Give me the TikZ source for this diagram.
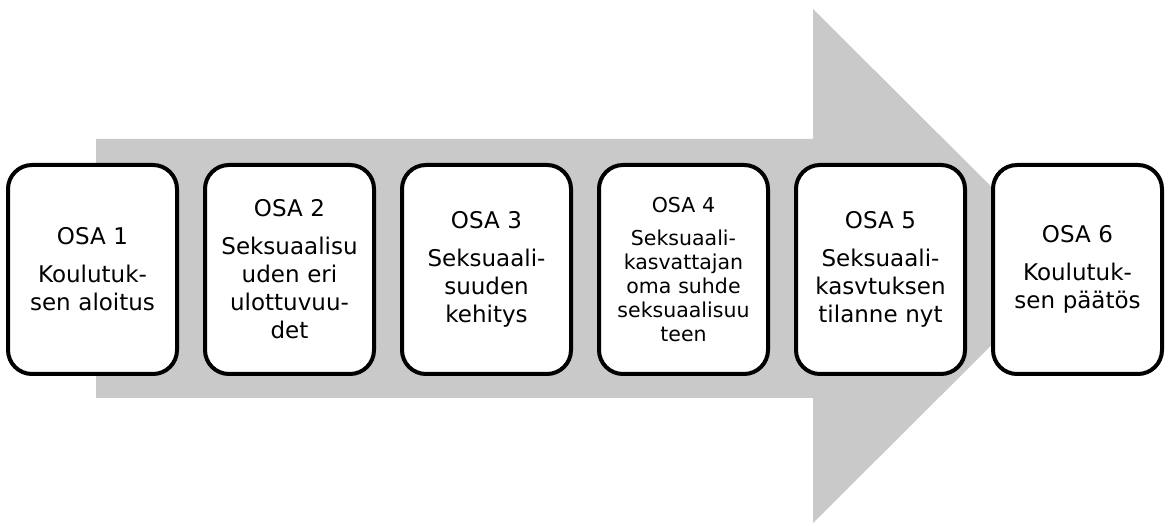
\documentclass[tikz,border=0pt]{standalone}
\usepackage{fontspec}
\setmainfont{DejaVu Sans}
\usetikzlibrary{positioning}
\definecolor{arrowgray}{RGB}{201,201,201}

\begin{document}
\begin{tikzpicture}[x=1pt,y=-1pt,
  osabox/.style={draw,line width=4pt,fill=white,rounded corners=24pt,
    minimum width=169pt,minimum height=209pt,text width=162pt,align=center,
    inner sep=0pt,font=\fontsize{23}{28}\selectfont},
  smalltext/.style={font=\fontsize{20.5}{24}\selectfont}
  ]
    \useasboundingbox (0,0) rectangle (1168,526);

    % big arrow behind the parts
    \fill[arrowgray] (96,139) -- (813,139) -- (813,9) -- (1071,266)
        -- (813,523) -- (813,398) -- (96,398) -- cycle;

    \node[osabox] (osa1) at (92.5,269.5) {OSA 1\\[10pt]Koulutuk-\\sen aloitus};
    \node[osabox,right=24pt of osa1] (osa2) {OSA 2\\[10pt]Seksuaalisu\\uden eri\\ulottuvuu-\\det};
    \node[osabox,right=24pt of osa2] (osa3) {OSA 3\\[10pt]Seksuaali-\\suuden\\kehitys};
    \node[osabox,smalltext,right=24pt of osa3] (osa4) {OSA 4\\[9pt]Seksuaali-\\kasvattajan\\oma suhde\\seksuaalisuu\\teen};
    \node[osabox,right=24pt of osa4] (osa5) {OSA 5\\[10pt]Seksuaali-\\kasvtuksen\\tilanne nyt};
    \node[osabox,right=24pt of osa5] (osa6) {OSA 6\\[10pt]Koulutuk-\\sen päätös};
\end{tikzpicture}
\end{document}
